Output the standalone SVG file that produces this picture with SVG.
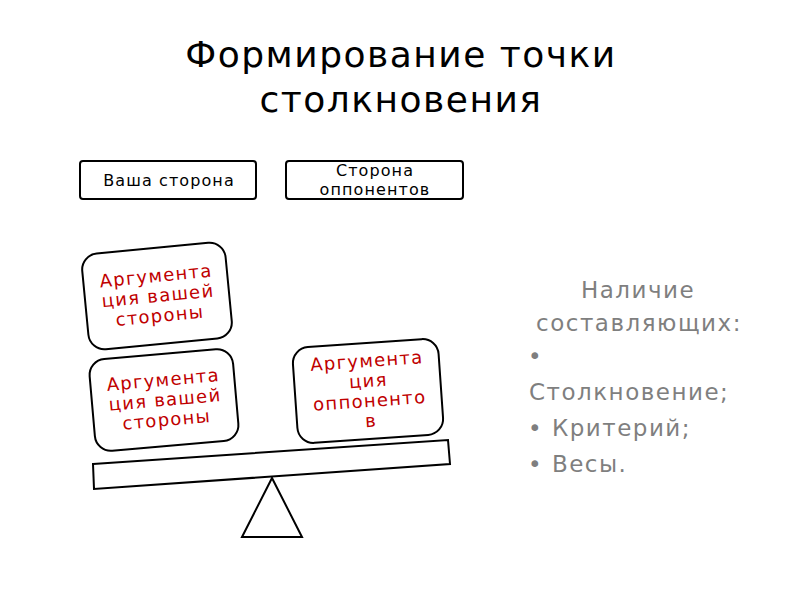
<svg xmlns="http://www.w3.org/2000/svg" width="800" height="600" viewBox="0 0 800 600">
<style>
.title{font-family:"DejaVu Sans",sans-serif;font-size:36px;letter-spacing:1.5px;fill:#000;text-anchor:middle}
.hdr{fill:#fff;stroke:#000;stroke-width:2}
.ht{font-family:"DejaVu Sans",sans-serif;font-size:16px;letter-spacing:1.1px;fill:#000;text-anchor:middle}
.arg{fill:#fff;stroke:#000;stroke-width:2}
.at{font-family:"DejaVu Sans",sans-serif;font-size:18px;letter-spacing:1.3px;fill:#c00000;text-anchor:middle}
.side{font-family:"DejaVu Sans",sans-serif;font-size:23px;letter-spacing:1.5px;fill:#7f7f7f}
.shape{fill:#fff;stroke:#000;stroke-width:2}
</style>
<rect width="800" height="600" fill="#fff"/>
<g id="title">
<text class="title" x="401" y="67">Формирование точки</text>
<text class="title" x="401" y="112">столкновения</text>
</g>
<g id="your-side">
<rect class="hdr" x="80" y="161" width="176" height="38" rx="3"/>
<text class="ht" x="169" y="186">Ваша сторона</text>
</g>
<g id="opponent-side">
<rect class="hdr" x="286" y="161" width="177" height="38" rx="3"/>
<text class="ht" x="375" y="176">Сторона</text>
<text class="ht" x="375" y="195">оппонентов</text>
</g>
<g id="arg-yours-1" transform="translate(157,296) rotate(-5.5)">
<rect class="arg" x="-72" y="-48" width="144" height="96" rx="16"/>
<text class="at" x="1" y="-14">Аргумента</text>
<text class="at" x="1" y="6">ция вашей</text>
<text class="at" x="1" y="26">стороны</text>
</g>
<g id="arg-yours-2" transform="translate(164,400) rotate(-5)">
<rect class="arg" x="-72" y="-46" width="144" height="92" rx="16"/>
<text class="at" x="1" y="-14">Аргумента</text>
<text class="at" x="1" y="6">ция вашей</text>
<text class="at" x="1" y="26">стороны</text>
</g>
<g id="arg-opponent" transform="translate(368,391) rotate(-4)">
<rect class="arg" x="-73" y="-48" width="146" height="96" rx="16"/>
<text class="at" x="1" y="-24">Аргумента</text>
<text class="at" x="1" y="-4">ция</text>
<text class="at" x="1" y="16">оппоненто</text>
<text class="at" x="1" y="36">в</text>
</g>
<g id="beam">
<polygon class="shape" points="93,464 448,440 450,464 94,489"/>
</g>
<g id="fulcrum">
<polygon class="shape" points="272,478 242,537 302,537"/>
</g>
<g id="connectors"></g>
<g id="notes">
<text class="side" x="638" y="298" text-anchor="middle">Наличие</text>
<text class="side" x="639" y="331" text-anchor="middle">составляющих:</text>
<text class="side" x="528" y="364">•</text>
<text class="side" x="529" y="400">Столкновение;</text>
<text class="side" x="528" y="436">• Критерий;</text>
<text class="side" x="528" y="472">• Весы.</text>
</g>
</svg>
